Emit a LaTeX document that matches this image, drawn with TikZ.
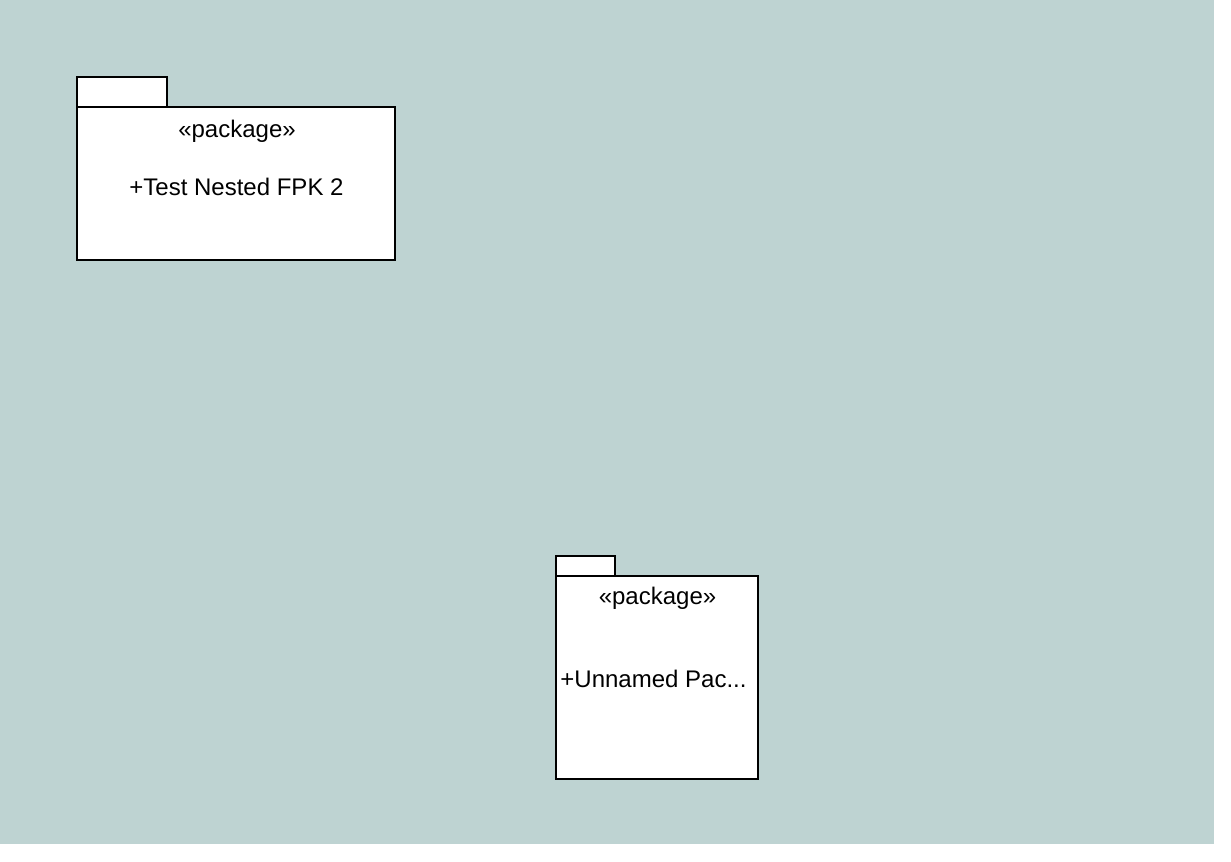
\documentclass[tikz,border=0pt]{standalone}
\usepackage{fontspec}
\setmainfont{Liberation Sans}
\usetikzlibrary{positioning}
\definecolor{canvas}{RGB}{190,211,210}

\begin{document}
\begin{tikzpicture}[x=0.75pt,y=-0.75pt,every node/.style={font=\fontsize{18}{21}\selectfont,inner sep=0pt,anchor=base},
  pkg/.style={draw=black,fill=white,line width=0.8pt}]
\useasboundingbox (0,0) rectangle (1231,861);
\fill[canvas] (0,0) rectangle (1214,844);
% package 1
\coordinate (t1a) at (77,77);
\coordinate (t1b) at (167,107);
\coordinate (b1a) at (77,107);
\coordinate (b1b) at (395,260);
\draw[pkg] (t1a) rectangle (t1b);
\draw[pkg] (b1a) rectangle (b1b);
\node (st1) at (237,137) {«package»};
\node (nm1) at (236.5,195) {+Test Nested FPK 2};
% package 2
\coordinate (t2a) at (556,556);
\coordinate (t2b) at (615,576);
\coordinate (b2a) at (556,576);
\coordinate (b2b) at (758,779);
\draw[pkg] (t2a) rectangle (t2b);
\draw[pkg] (b2a) rectangle (b2b);
\node (st2) at (657.5,604) {«package»};
\node (nm2) at (653.5,687) {+Unnamed Pac...};
\end{tikzpicture}
\end{document}
